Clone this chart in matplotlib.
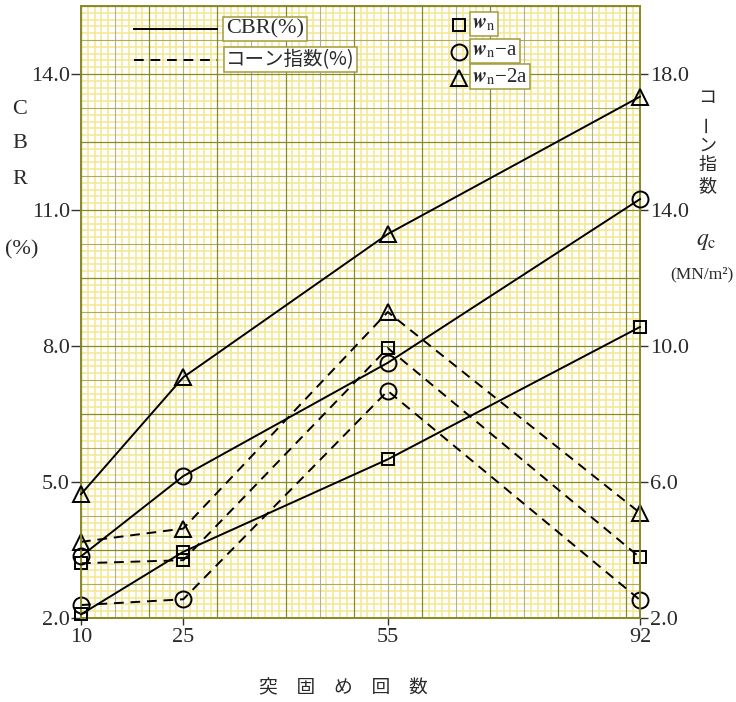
import numpy as np
import matplotlib
matplotlib.use("Agg")
import matplotlib.pyplot as plt
from matplotlib.lines import Line2D

# ---------------- data ----------------
blows = [10, 25, 55, 92]
cbr_wn = [2.08, 3.46, 5.50, 8.42]
cbr_wn_a = [3.36, 5.13, 7.63, 11.24]
cbr_wn_2a = [4.73, 7.31, 10.47, 13.50]
qc_wn = [3.61, 3.70, 9.94, 3.78]
qc_wn_a = [2.38, 2.55, 8.68, 2.53]
qc_wn_2a = [4.24, 4.63, 11.00, 5.09]

cbr_ticks = [2.0, 5.0, 8.0, 11.0, 14.0]
qc_ticks = [2.0, 6.0, 10.0, 14.0, 18.0]
x_ticks = [10, 25, 55, 92]
x_label = "突　固　め　回　数"
left_label = ["C", "B", "R", "(%)"]
right_label = "コーン指数"
legend_lines = ["CBR(%)", "コーン指数(%)"]
legend_marks = [r"$\mathbfit{w}_{\mathrm{n}}$", r"$\mathbfit{w}_{\mathrm{n}}$−a", r"$\mathbfit{w}_{\mathrm{n}}$−2a"]

W, H = 736, 702
SERIF = ["Liberation Serif", "DejaVu Serif"]
CJK = ["Noto Sans CJK JP", "DejaVu Sans"]
plt.rcParams["mathtext.fontset"] = "stix"

DARK = "#8a8a22"
MED = "#b4b088"
MINOR = "#f4e690"
TXT = "#2a2a2a"

fig = plt.figure(figsize=(W / 100, H / 100), dpi=100)
ax = fig.add_axes([81 / W, 1 - 618 / H, (640 - 81) / W, (618 - 6) / H])
ax2 = ax.twinx()
ax.set_zorder(ax2.get_zorder() + 1)
ax.patch.set_visible(False)

ax.set_xlim(10, 92)
ax.set_ylim(2.0, 15.5)
ax2.set_ylim(2.0, 20.0)

# graph-paper grid (on ax2, in cone-index units)
xs = np.arange(10, 93, 1)
for xv in xs:
    if xv % 10 == 0:
        c, lw, z = DARK, 0.9, 0.3
    elif xv % 5 == 0:
        c, lw, z = MED, 0.8, 0.2
    else:
        c, lw, z = MINOR, 1.1, 0.1
    ax2.axvline(xv, color=c, lw=lw, zorder=z)
ys = np.round(np.arange(2.0, 20.01, 0.2), 2)
for yv in ys:
    if abs(yv / 2 - round(yv / 2)) < 1e-6:
        c, lw, z = DARK, 0.9, 0.3
    elif abs(yv - round(yv)) < 1e-6:
        c, lw, z = "#b0aa5a", 0.8, 0.2
    else:
        c, lw, z = MINOR, 1.1, 0.1
    ax2.axhline(yv, color=c, lw=lw, zorder=z)

LW = 1.4
MEW = 1.4
dash = (5, 3.5)
mk = dict(markerfacecolor="none", markeredgecolor="black", markeredgewidth=MEW)

# solid CBR lines
ax.plot(blows, cbr_wn, "-", color="black", lw=LW, marker="s", ms=9, **mk, zorder=3, clip_on=False)
ax.plot(blows, cbr_wn_a, "-", color="black", lw=LW, marker="o", ms=11.5, **mk, zorder=3, clip_on=False)
ax.plot(blows, cbr_wn_2a, "-", color="black", lw=LW, marker="^", ms=12, **mk, zorder=3, clip_on=False)
# dashed cone-index lines
for vals, m, s in [(qc_wn, "s", 9), (qc_wn_a, "o", 11.5), (qc_wn_2a, "^", 12)]:
    ax2.plot(blows, vals, color="black", lw=LW, linestyle=(0, dash), marker=m, ms=s, **mk,
             zorder=3, clip_on=False)

for a in (ax, ax2):
    for sp in a.spines.values():
        sp.set_color(DARK)
        sp.set_linewidth(1.2)

ax.set_xticks(x_ticks)
ax.set_xticklabels([str(v) for v in x_ticks], family=SERIF, fontsize=16, color=TXT)
ax.set_yticks(cbr_ticks)
ax.set_yticklabels([f"{v:.1f}" for v in cbr_ticks], family=SERIF, fontsize=16, color=TXT)
ax2.set_yticks(qc_ticks)
ax2.set_yticklabels([f"{v:.1f}" for v in qc_ticks], family=SERIF, fontsize=16, color=TXT)
ax.tick_params(axis="x", direction="out", length=5, width=1.0, color="#333333", pad=2)
ax.tick_params(axis="y", direction="out", length=7, width=1.0, color="#333333", pad=1)
ax2.tick_params(axis="y", direction="out", length=6, width=1.0, color="#333333", pad=1)


def fx(x):
    return x / W


def fy(y):
    return 1 - y / H


# left axis label (stacked)
for txt, (x, y) in zip(left_label, [(20, 109), (20, 144), (20, 179), (22, 250)]):
    fig.text(fx(x), fy(y), txt, family=SERIF, fontsize=16, color=TXT, ha="center", va="center")

# right axis label (vertical writing)
ry = [98, 124, 146, 165, 186]
for ch, y in zip(right_label, ry):
    rot = 90 if ch == "ー" else 0
    fig.text(fx(707), fy(y), ch, family=CJK, fontsize=13, color=TXT, ha="center", va="center", rotation=rot)
fig.text(fx(706), fy(240), r"$q_{\mathrm{c}}$", fontsize=17, color=TXT, ha="center", va="center")
fig.text(fx(702), fy(274), "(MN/m²)", family=SERIF, fontsize=12.5, color=TXT, ha="center", va="center")

# x label
fig.text(fx(343), fy(688), x_label, family=CJK, fontsize=13.5, color=TXT, ha="center", va="center")

# line legend
boxkw = dict(boxstyle="square,pad=0.12", fc="white", ec="#a39d3a", lw=1.1)
fig.add_artist(Line2D([fx(134), fx(217)], [fy(29), fy(29)], color="black", lw=LW))
fig.add_artist(Line2D([fx(134), fx(217)], [fy(59.5), fy(59.5)], color="black", lw=LW, linestyle=(0, dash)))
fig.text(fx(226), fy(29), legend_lines[0], family=SERIF, fontsize=16, color=TXT, ha="left", va="center", bbox=boxkw)
fig.text(fx(226), fy(59.5), legend_lines[1], family=CJK, fontsize=14, color=TXT, ha="left", va="center", bbox=boxkw)

# marker legend
for (m, s), y, lab in zip([("s", 9), ("o", 11.5), ("^", 12)], [25, 52, 78], legend_marks):
    fig.add_artist(Line2D([fx(459)], [fy(y)], linestyle="none", marker=m, ms=s, **mk))
    fig.text(fx(472), fy(y - 1.5), lab, family=SERIF, fontsize=15, color=TXT, ha="left", va="center", bbox=boxkw)

fig.savefig("out.png", dpi=100)
